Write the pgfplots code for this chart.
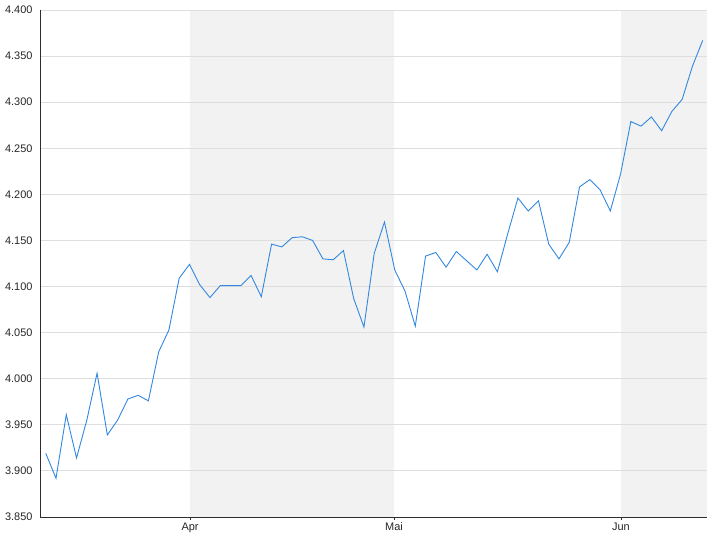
\documentclass[border=0pt]{standalone}
\usepackage{pgfplots}
\pgfplotsset{compat=1.18}
\usepackage{fontspec}
\setmainfont{Liberation Sans}
\definecolor{linecol}{RGB}{50,135,225}
\definecolor{bandcol}{RGB}{242,242,242}
\definecolor{gridcol}{RGB}{222,222,222}
\definecolor{axiscol}{RGB}{45,45,45}

\pgfplotstableread{
x y
0 3.919
1 3.892
2 3.961
3 3.914
4 3.955
5 4.006
6 3.939
7 3.955
8 3.978
9 3.982
10 3.976
11 4.029
12 4.053
13 4.109
14 4.124
15 4.102
16 4.088
17 4.101
18 4.101
19 4.101
20 4.112
21 4.089
22 4.146
23 4.143
24 4.153
25 4.154
26 4.150
27 4.130
28 4.129
29 4.139
30 4.087
31 4.056
32 4.136
33 4.170
34 4.118
35 4.095
36 4.057
37 4.133
38 4.137
39 4.121
40 4.138
41 4.128
42 4.118
43 4.135
44 4.116
45 4.157
46 4.196
47 4.182
48 4.193
49 4.146
50 4.130
51 4.148
52 4.208
53 4.216
54 4.205
55 4.182
56 4.222
57 4.279
58 4.274
59 4.284
60 4.269
61 4.290
62 4.303
63 4.339
64 4.367
}\prices

\begin{document}
\begin{tikzpicture}
\begin{axis}[
    set layers,
    scale only axis,
    width=667bp,
    height=507bp,
    xmin=-0.56, xmax=64.42,
    ymin=3.85, ymax=4.40,
    axis lines=left,
    axis line style={-, axiscol, line width=0.9bp},
    xtick={14.06,33.93,56.04},
    xticklabels={Apr,Mai,Jun},
    ytick={3.85,3.90,3.95,4.00,4.05,4.10,4.15,4.20,4.25,4.30,4.35,4.40},
    yticklabels={3.850,3.900,3.950,4.000,4.050,4.100,4.150,4.200,4.250,4.300,4.350,4.400},
    ymajorgrids,
    grid style={gridcol, line width=0.8bp},
    tick align=outside,
    major tick length=3bp,
    tick style={axiscol, line width=0.8bp},
    ytick style={draw=none},
    ticklabel style={font=\fontsize{11}{13}\selectfont, text=black!85},
    yticklabel style={xshift=-1bp},
    xticklabel style={yshift=0.5bp},
    clip=false,
]
\addplot[on layer=axis background, fill=bandcol, draw=none]
    coordinates {(14.06,3.85) (33.93,3.85) (33.93,4.40) (14.06,4.40)} -- cycle;
\addplot[on layer=axis background, fill=bandcol, draw=none]
    coordinates {(56.04,3.85) (64.42,3.85) (64.42,4.40) (56.04,4.40)} -- cycle;
\addplot[linecol, line width=0.9bp] table[x=x, y=y] {\prices};
\end{axis}
\path[use as bounding box] ([xshift=-40bp,yshift=-23bp]current axis.south west)
    rectangle ([xshift=13bp,yshift=10bp]current axis.north east);
\end{tikzpicture}
\end{document}
